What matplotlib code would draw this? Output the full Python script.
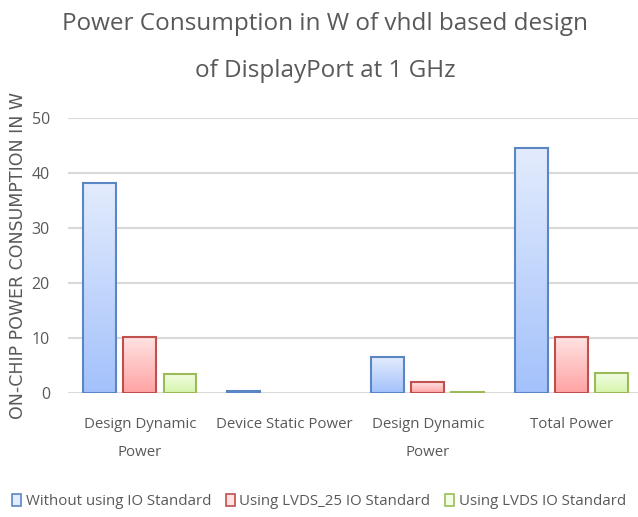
import numpy as np
import matplotlib
matplotlib.use("Agg")
import matplotlib.pyplot as plt
from matplotlib.patches import Patch
from matplotlib.colors import LinearSegmentedColormap

plt.rcParams['font.family'] = ['Open Sans', 'DejaVu Sans']

# data
categories = ["Design Dynamic\nPower", "Device Static Power", "Design Dynamic\nPower", "Total Power"]
series = ["Without using IO Standard", "Using LVDS_25 IO Standard", "Using LVDS IO Standard"]
without_io = [38.2, 0.3, 6.5, 44.5]
lvds_25 = [10.2, 0.0, 2.0, 10.2]
lvds = [3.5, 0.0, 0.2, 3.7]

# (top colour, bottom colour, edge colour)
styles = [
    ("#e3ecfd", "#a3c1fb", "#5b86c4"),
    ("#ffe3e3", "#ffa3a3", "#c0504d"),
    ("#f3fde3", "#d5f5ac", "#9bbb59"),
]

grey = "#595959"

fig = plt.figure(figsize=(6.38, 5.17), dpi=100)
ax = fig.add_axes([68 / 638, 124 / 517, 570 / 638, 275 / 517])

x = np.arange(len(categories))
step = 0.278
width = 0.229
gradient = np.linspace(0, 1, 256).reshape(-1, 1)

for k, (vals, (top, bot, edge)) in enumerate(zip([without_io, lvds_25, lvds], styles)):
    pos = x + (k - 1) * step
    bars = ax.bar(pos, vals, width, facecolor="none", edgecolor=edge, linewidth=1.5, zorder=3)
    cmap = LinearSegmentedColormap.from_list(f"g{k}", [bot, top])
    for b in bars:
        if b.get_height() <= 0:
            b.set_linewidth(0)
            continue
        bx, by = b.get_x(), b.get_y()
        im = ax.imshow(gradient, cmap=cmap, aspect="auto", origin="lower",
                       extent=[bx, bx + b.get_width(), by, by + b.get_height()], zorder=2)
        im.set_clip_path(b)

ax.set_xlim(-0.5, 3.46)
ax.set_ylim(0, 50)
ax.set_yticks(range(0, 51, 10))
ax.set_xticks(x, categories)
ax.grid(axis="y", color="#d9d9d9", linewidth=1.5, zorder=0)
ax.set_axisbelow(True)
for s in ax.spines.values():
    s.set_visible(False)
ax.tick_params(length=0, colors=grey)
ax.tick_params(axis="x", pad=17, labelsize=10.8)
ax.tick_params(axis="y", pad=13, labelsize=11.5)
for t in ax.get_xticklabels():
    t.set_linespacing(2.2)

fig.text(0.51, 0.953, "Power Consumption in W of vhdl based design", ha="center", va="center",
         fontsize=17.5, color=grey)
fig.text(0.51, 0.862, "of DisplayPort at 1 GHz", ha="center", va="center",
         fontsize=17.5, color=grey)

fig.text(0.028, 0.505, "ON-CHIP POWER CONSUMPTION IN W", rotation=90, ha="center", va="center",
         fontsize=12.5, color=grey, family=['DejaVu Sans'])

handles = [Patch(facecolor=top, edgecolor=edge, linewidth=1.2) for top, bot, edge in styles]
fig.legend(handles, series, loc="center", bbox_to_anchor=(0.5, 0.03), ncol=3, frameon=False,
           fontsize=10.8, labelcolor=grey, handlelength=0.6, handleheight=0.8,
           handletextpad=0.3, columnspacing=1.0)

fig.savefig("out.png", dpi=100)
